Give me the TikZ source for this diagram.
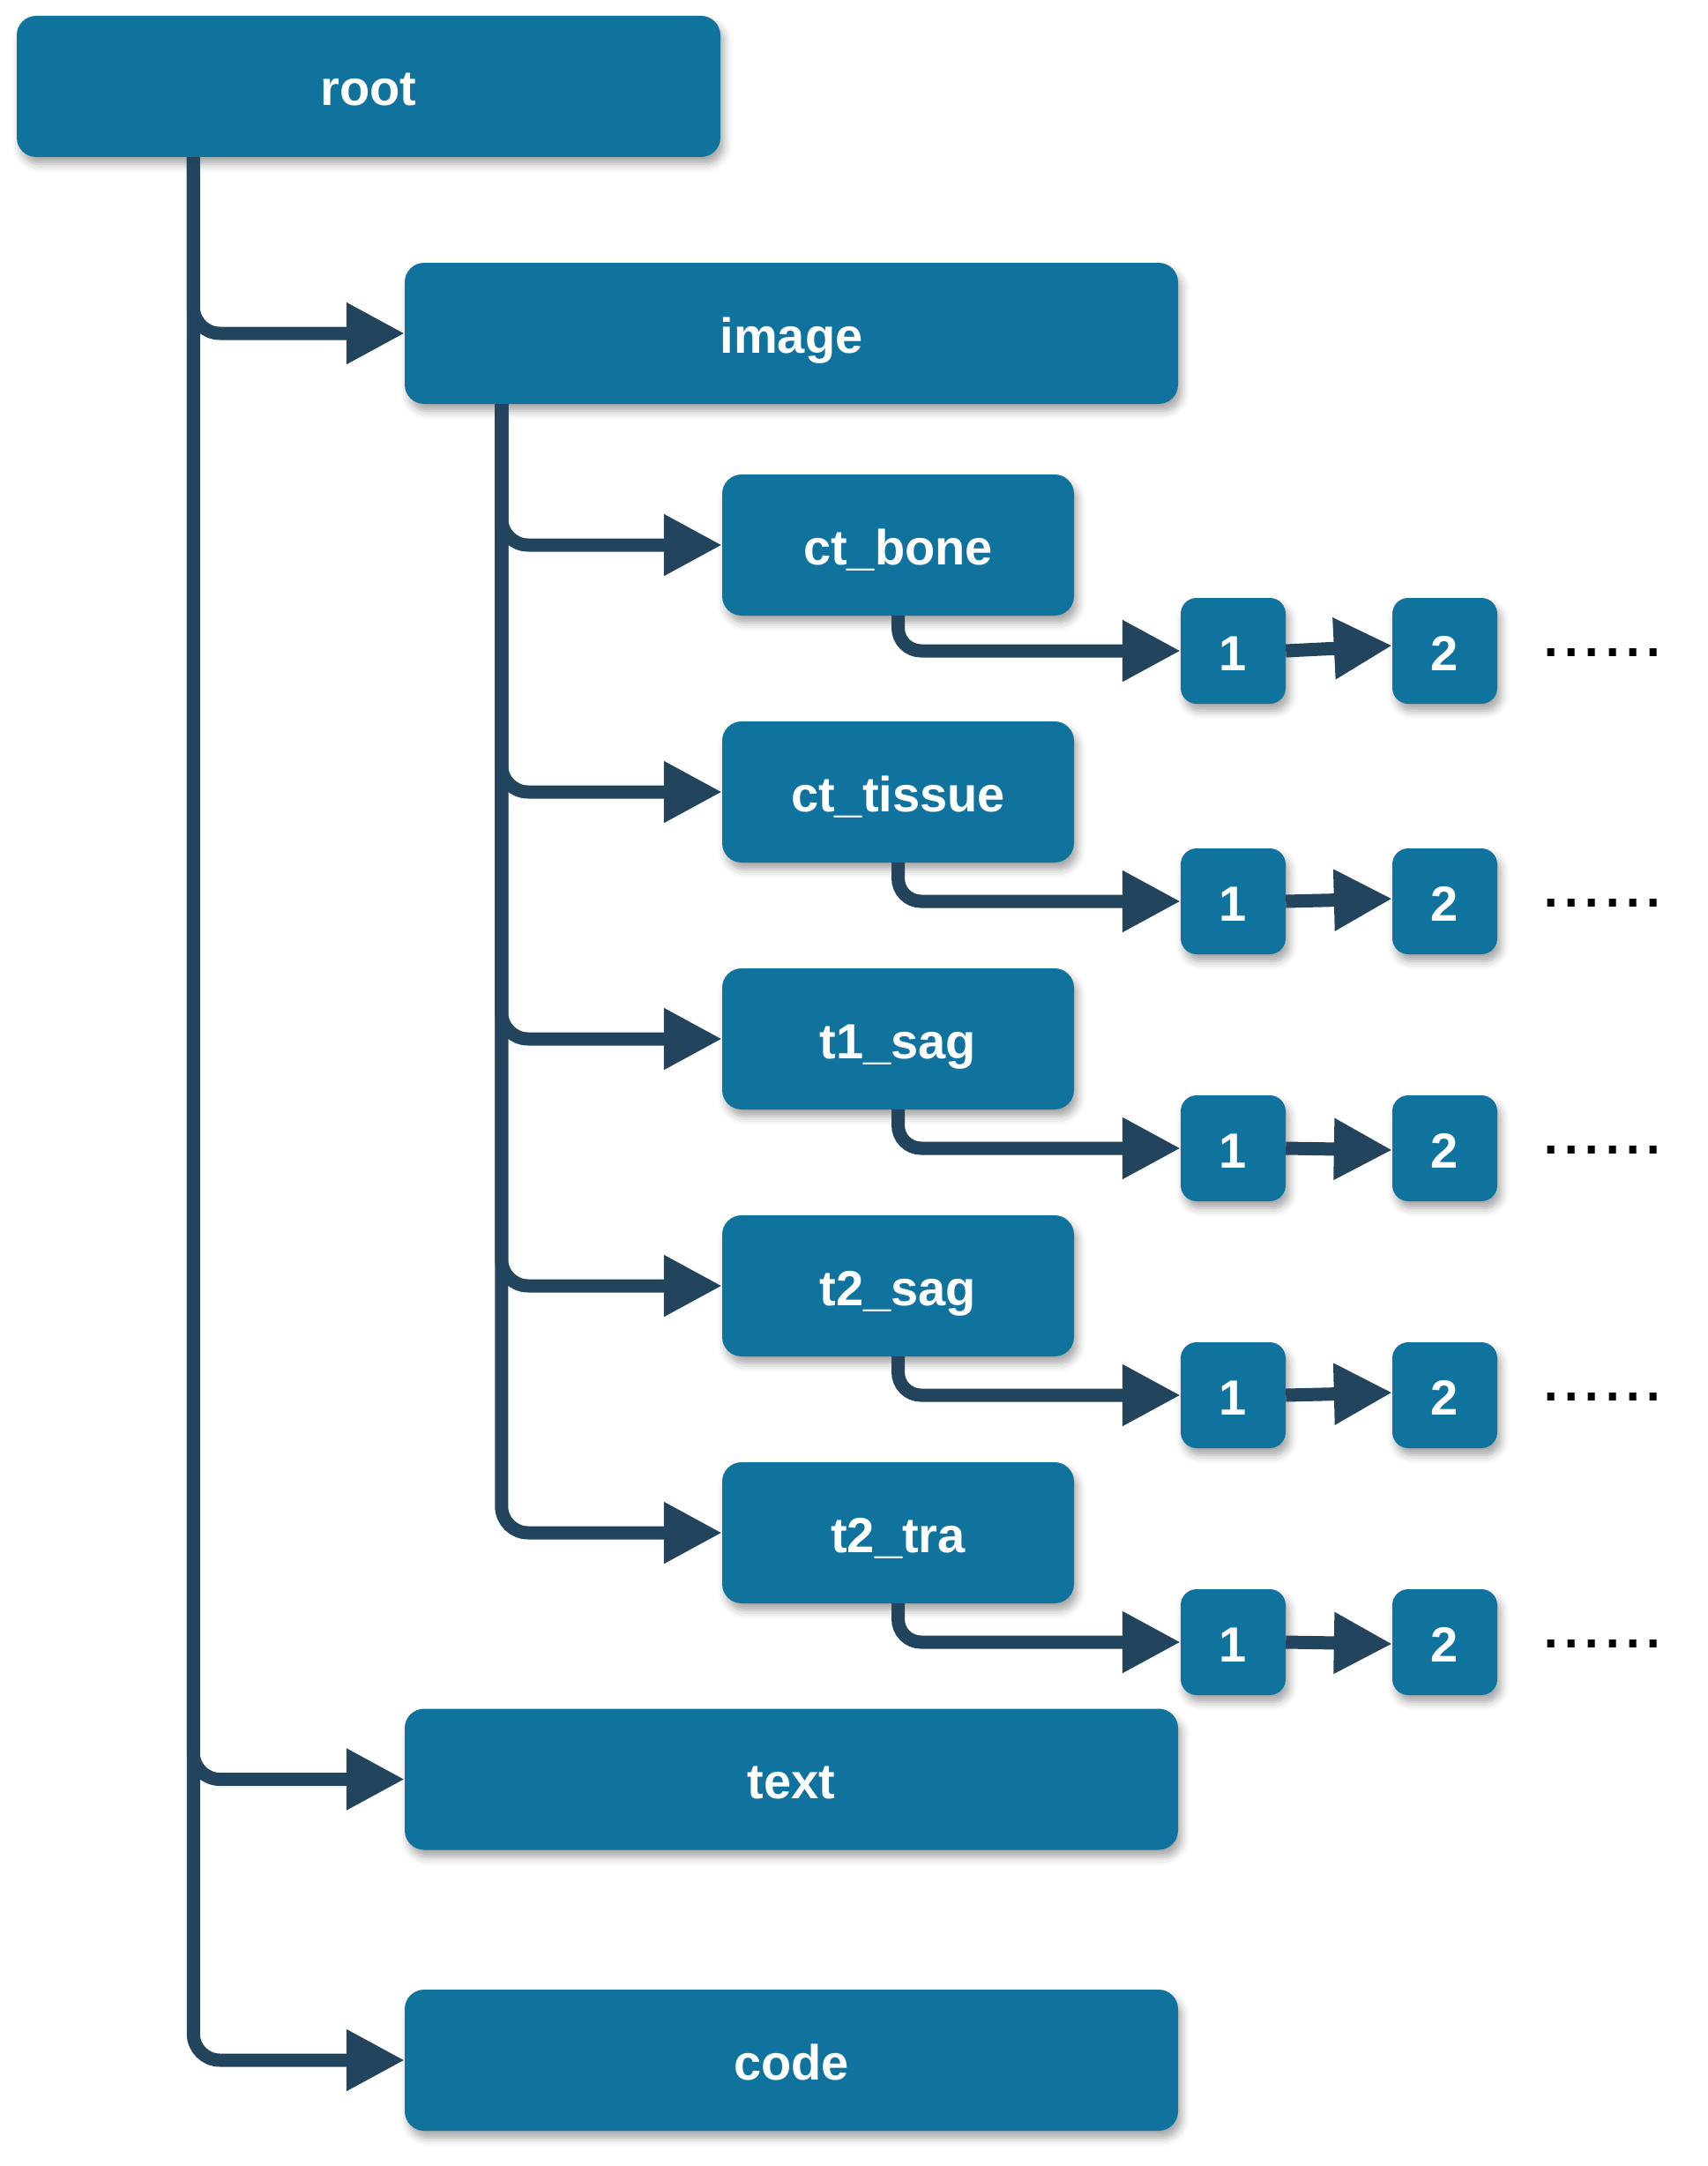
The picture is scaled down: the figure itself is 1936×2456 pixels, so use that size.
\documentclass[tikz,border=0pt]{standalone}
\usepackage{fontspec}
\setmainfont{Liberation Sans}
\usetikzlibrary{arrows.meta,shadows.blur}
\definecolor{boxfill}{HTML}{10739E}
\definecolor{linecol}{HTML}{23445D}
\begin{document}
\begin{tikzpicture}[x=1pt,y=-1pt,
  box/.style={draw=none, fill=boxfill, rounded corners=22pt, text=white,
    font=\bfseries\fontsize{56}{60}\selectfont, text height=44pt, text depth=0pt,
    inner sep=0pt, minimum height=160pt,
    blur shadow={shadow xshift=4pt, shadow yshift=-8pt, shadow blur radius=9pt, shadow opacity=35}},
  bigbox/.style={box, minimum width=877pt},
  midbox/.style={box, minimum width=399pt},
  numbox/.style={box, minimum width=119pt, minimum height=120pt, rounded corners=18pt},
  conn/.style={draw=linecol, line width=15pt, -{Triangle[length=66pt,width=66pt]}},
  dotstext/.style={font=\fontsize{84}{90}\selectfont, inner sep=0pt, anchor=base west, text=black}
]
\useasboundingbox (0,0) rectangle (1936,2456);

\node[box, minimum width=798pt] (root) at (418,98) {root};
\node[bigbox] (image) at (897.5,378) {image};
\node[bigbox] (text) at (897.5,2017.5) {text};
\node[bigbox] (code) at (897.5,2336) {code};

\foreach \name/\lab/\y/\yy/\dy in {bone/ct\_bone/618/738/6, tissue/ct\_tissue/898/1022/3, tonesag/t1\_sag/1178/1302/-2, ttwosag/t2\_sag/1458/1582/3, ttwotra/t2\_tra/1738/1862/-2}{
  \node[midbox] (\name) at (1018.5,\y) {\lab};
  \node[numbox] (\name-1) at (1398.5,\yy) {1};
  \node[numbox] (\name-2) at (1638.5,\yy) {2};
  \node[dotstext] (\name-dots) at (1747,\yy+6) {......};
  \coordinate (\name-in) at ([yshift=\dy pt]\name-2.west);
}

% connectors from root
\coordinate (rootout) at ([xshift=200.5pt]root.south west);
\foreach \t in {image,text,code}{
  \draw[conn, rounded corners=30pt] (rootout) |- (\t.west);
}
% connectors from image
\coordinate (imageout) at ([xshift=110pt]image.south west);
\foreach \t in {bone,tissue,tonesag,ttwosag,ttwotra}{
  \draw[conn, rounded corners=30pt] (imageout) |- (\t.west);
  \draw[conn, rounded corners=26pt] (\t.south) |- (\t-1.west);
  \draw[conn] (\t-1.east) -- (\t-in);
}
\end{tikzpicture}
\end{document}
